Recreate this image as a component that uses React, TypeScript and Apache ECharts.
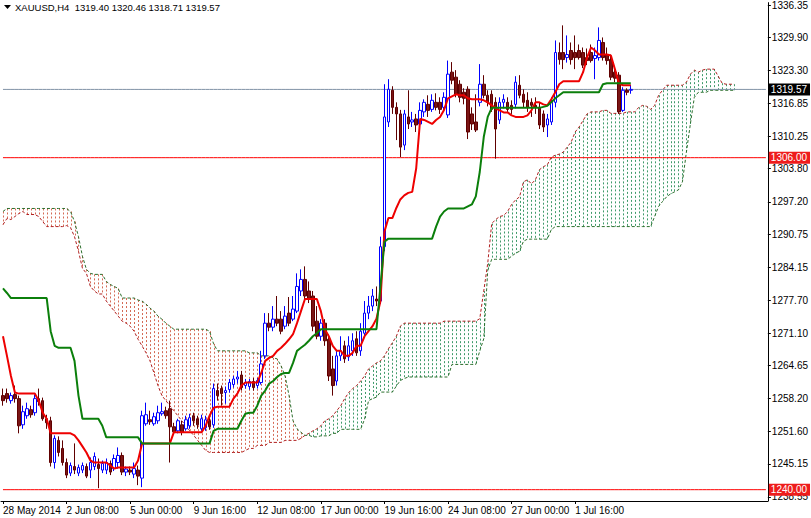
import React, { useEffect, useRef } from 'react';
import * as echarts from 'echarts';

const FONT = '"Liberation Sans", Arial, sans-serif';

// [open, close, low, high] for each H4 bar, starting 28 May 2014 16:00
const candles: number[][] = [
  [1258.7,1257.7,1256.7,1260.1],[1259.1,1258.1,1257.3,1260.1],[1257.7,1258.7,1257.1,1259.3],[1258.9,1258.1,1257.3,1260.7],[1258.1,1252.7,1251.2,1258.7],
  [1252.9,1255.5,1252.1,1256.7],[1254.7,1256.1,1254.1,1257.3],[1255.9,1254.9,1254.3,1256.7],[1255.3,1258.1,1254.7,1258.9],[1258.1,1257.5,1256.7,1260.1],
  [1257.7,1254.1,1253.7,1258.3],[1254.1,1253.3,1252.1,1254.9],[1253.7,1245.4,1244.6,1254.5],[1245.4,1250.2,1244.2,1250.8],[1249.8,1247.4,1246.6,1250.6],
  [1248.2,1245.4,1244.8,1249.8],[1245.4,1242.9,1242.3,1246.2],[1243.3,1244.8,1242.7,1245.4],[1244.6,1243.9,1243.1,1249.2],[1243.3,1244.4,1242.7,1245.0],
  [1243.9,1244.8,1243.3,1245.4],[1244.6,1242.7,1242.3,1245.2],[1243.9,1245.4,1242.3,1246.4],[1244.6,1246.6,1243.9,1247.4],[1245.0,1244.2,1240.3,1246.2],
  [1243.9,1245.2,1243.3,1245.8],[1243.9,1245.4,1243.1,1246.2],[1245.2,1243.5,1242.9,1245.8],[1244.2,1246.2,1243.7,1247.0],[1245.4,1246.8,1244.2,1248.4],
  [1246.8,1243.5,1242.9,1247.4],[1243.5,1244.1,1242.7,1244.6],[1243.9,1243.5,1242.9,1244.6],[1243.1,1244.2,1242.3,1245.4],[1243.9,1242.7,1240.9,1244.8],
  [1242.3,1254.7,1240.5,1255.7],[1253.1,1254.9,1252.7,1257.3],[1253.9,1253.5,1252.9,1255.7],[1253.1,1254.5,1252.7,1255.3],[1253.7,1255.3,1253.1,1256.7],
  [1255.1,1255.5,1254.7,1257.3],[1255.7,1254.7,1254.1,1256.5],[1256.1,1252.5,1245.4,1257.7],[1252.5,1251.5,1251.0,1253.3],[1251.7,1253.7,1251.2,1254.1],
  [1252.9,1251.4,1250.8,1253.7],[1252.1,1253.9,1251.7,1254.7],[1252.7,1254.3,1252.1,1255.1],[1254.7,1253.7,1252.7,1255.3],[1254.1,1252.9,1252.1,1254.7],
  [1252.1,1254.1,1251.7,1254.9],[1252.3,1253.9,1251.7,1254.7],[1253.7,1252.5,1251.9,1254.5],[1252.9,1260.1,1252.3,1261.1],[1259.7,1258.7,1257.7,1261.1],
  [1260.1,1259.1,1256.7,1260.7],[1259.3,1259.7,1257.1,1260.5],[1259.9,1261.3,1259.3,1262.0],[1260.9,1262.0,1260.3,1262.6],[1262.0,1262.4,1261.1,1263.6],
  [1262.8,1260.3,1259.7,1263.6],[1260.7,1261.3,1260.1,1262.0],[1260.5,1261.5,1259.9,1262.0],[1261.5,1260.3,1259.7,1262.2],[1260.7,1261.7,1260.1,1262.2],
  [1261.3,1265.0,1260.9,1267.6],[1266.6,1273.1,1266.0,1275.1],[1273.1,1272.3,1271.5,1275.1],[1272.3,1273.9,1271.5,1276.5],[1273.9,1273.1,1272.5,1278.5],
  [1273.9,1271.5,1270.9,1275.5],[1272.5,1274.5,1271.9,1276.5],[1275.1,1273.1,1272.5,1278.3],[1273.9,1275.9,1273.5,1278.5],[1275.5,1280.4,1275.1,1283.0],
  [1279.5,1281.8,1278.5,1283.8],[1281.8,1278.5,1277.9,1284.4],[1279.5,1277.9,1277.1,1281.4],[1278.5,1272.5,1271.5,1279.5],[1273.5,1270.5,1269.9,1276.5],
  [1270.5,1273.1,1269.6,1273.9],[1273.1,1269.6,1268.6,1273.9],[1269.9,1262.6,1261.6,1270.9],[1264.0,1260.7,1258.7,1266.6],[1261.6,1266.6,1260.7,1267.6],
  [1266.6,1267.6,1265.6,1270.5],[1268.6,1266.0,1265.2,1269.6],[1266.4,1268.6,1265.6,1270.5],[1267.6,1269.6,1266.6,1271.1],[1270.0,1267.2,1266.6,1271.5],
  [1267.6,1271.5,1266.6,1273.1],[1271.1,1275.1,1270.3,1277.5],[1275.1,1276.5,1273.9,1278.5],[1276.5,1278.5,1275.5,1279.9],[1277.9,1277.5,1276.5,1280.4],
  [1277.5,1288.3,1276.9,1290.3],[1288.3,1314.1,1287.4,1320.6],[1313.1,1319.6,1312.1,1321.6],[1319.4,1316.0,1314.7,1320.2],[1316.0,1314.7,1309.5,1317.0],
  [1314.7,1308.1,1306.1,1315.5],[1308.5,1314.7,1307.5,1315.5],[1314.1,1312.7,1311.7,1319.4],[1313.1,1313.5,1312.1,1315.1],[1313.7,1312.5,1311.1,1314.7],
  [1312.7,1315.4,1312.1,1317.0],[1315.1,1317.0,1314.1,1317.6],[1316.6,1315.4,1314.1,1318.4],[1315.6,1317.4,1315.1,1318.6],[1317.0,1316.0,1315.4,1318.8],
  [1317.0,1315.6,1314.7,1318.0],[1316.0,1318.0,1315.4,1319.0],[1314.5,1322.6,1313.9,1325.3],[1323.0,1321.4,1320.6,1325.0],[1322.0,1318.6,1318.0,1323.4],
  [1320.6,1318.0,1317.0,1321.4],[1319.0,1317.8,1316.6,1319.8],[1319.6,1311.1,1309.7,1320.2],[1314.7,1312.7,1311.5,1316.0],[1313.1,1311.5,1311.1,1318.6],
  [1317.0,1320.6,1316.2,1324.6],[1320.6,1318.4,1317.8,1322.4],[1318.4,1317.0,1316.2,1319.4],[1318.6,1315.6,1315.1,1319.4],[1317.0,1311.7,1305.8,1318.0],
  [1313.5,1317.0,1312.7,1318.0],[1317.0,1317.6,1315.8,1318.6],[1317.0,1315.6,1315.1,1318.0],[1316.4,1315.6,1314.7,1317.4],[1316.6,1321.0,1315.8,1322.2],
  [1320.4,1318.4,1317.8,1322.4],[1318.6,1317.0,1316.0,1319.6],[1317.4,1316.0,1315.1,1319.0],[1317.0,1316.4,1314.1,1317.8],[1316.4,1316.0,1314.7,1318.0],
  [1316.0,1312.5,1311.7,1317.0],[1314.7,1312.1,1311.1,1315.4],[1312.5,1313.7,1310.1,1314.7],[1313.1,1317.0,1312.5,1318.0],[1317.0,1326.9,1316.0,1329.3],
  [1326.9,1325.5,1324.5,1328.9],[1326.9,1325.5,1323.6,1332.3],[1325.9,1326.5,1324.9,1330.3],[1327.3,1325.5,1324.5,1328.9],[1326.9,1325.9,1323.6,1330.3],
  [1327.3,1325.9,1325.5,1328.5],[1326.9,1324.4,1323.8,1327.9],[1325.9,1325.3,1324.4,1327.7],[1326.9,1325.3,1324.9,1328.5],[1325.7,1326.3,1321.6,1327.9],
  [1325.9,1329.3,1325.3,1331.9],[1328.9,1325.9,1325.3,1329.9],[1326.5,1325.3,1324.5,1327.9],[1325.5,1322.0,1321.4,1326.5],[1323.0,1321.8,1321.0,1324.0],
  [1322.4,1315.1,1314.7,1323.0],[1315.4,1319.4,1315.1,1320.0],[1319.4,1319.0,1318.4,1319.8],[1319.40,1319.57,1318.71,1320.46],
];

// Tenkan-sen (red)
const tenkan: number[] = [
  1270.5,1266.6,1262.6,1259.3,1259.1,1259.1,1259.1,1259.1,1259.1,1257.7,
  1255.3,1254.1,1251.2,1251.2,1251.2,1251.2,1251.2,1251.2,1250.8,1249.8,
  1248.6,1247.4,1245.8,1245.4,1245.4,1245.4,1245.4,1244.8,1244.2,1244.4,
  1244.4,1244.4,1244.4,1244.4,1245.8,1249.2,1249.2,1249.2,1249.2,1249.2,
  1249.2,1249.2,1249.2,1251.4,1251.4,1251.4,1251.4,1251.4,1251.4,1251.4,
  1251.4,1252.7,1254.7,1256.3,1256.5,1256.5,1256.5,1256.5,1258.1,1259.1,
  1260.7,1261.3,1261.3,1261.3,1261.3,1263.2,1265.6,1266.2,1266.6,1267.6,
  1268.2,1269.0,1269.9,1270.9,1273.1,1275.5,1277.9,1277.9,1277.9,1277.9,
  1275.5,1271.9,1270.5,1268.6,1267.6,1267.6,1266.6,1266.6,1267.2,1268.6,
  1268.6,1270.5,1271.5,1272.5,1274.0,1277.5,1291.3,1294.0,1294.0,1296.0,
  1297.7,1298.5,1299.0,1299.2,1303.9,1313.7,1313.5,1313.1,1312.7,1313.5,
  1314.1,1315.5,1317.8,1318.2,1318.6,1318.4,1318.4,1317.8,1317.6,1317.6,
  1317.6,1317.4,1317.0,1316.4,1315.8,1315.4,1315.0,1315.0,1314.4,1314.1,
  1314.1,1314.1,1314.4,1315.4,1317.0,1317.0,1316.6,1316.4,1317.6,1319.0,
  1320.6,1321.2,1321.2,1321.2,1321.2,1321.2,1323.0,1325.9,1327.9,1327.3,
  1326.5,1326.5,1326.5,1326.3,1323.6,1320.8,1320.4,1320.4,1320.4,
];

// Kijun-sen (green)
const kijun: number[] = [
  1280.0,1279.1,1278.1,1278.1,1278.1,1278.1,1278.1,1278.1,1278.1,1278.1,
  1278.1,1278.1,1271.5,1268.6,1268.2,1268.2,1268.2,1268.2,1265.6,1258.7,
  1254.1,1254.1,1254.1,1254.1,1254.1,1252.7,1250.4,1250.4,1250.4,1250.4,
  1250.4,1250.4,1250.4,1250.4,1250.4,1249.2,1249.2,1249.2,1249.2,1249.2,
  1249.2,1249.2,1249.2,1249.2,1249.2,1249.2,1249.2,1249.2,1249.2,1249.2,
  1249.2,1249.2,1249.2,1251.7,1252.1,1252.1,1252.1,1252.1,1252.1,1252.1,
  1253.7,1255.1,1255.3,1255.3,1256.7,1258.7,1259.7,1261.1,1261.6,1262.4,
  1263.0,1263.2,1263.2,1265.2,1267.6,1268.2,1268.8,1269.6,1270.5,1271.1,
  1271.9,1271.9,1271.9,1271.9,1271.9,1271.9,1271.9,1271.9,1271.9,1271.9,
  1271.9,1271.9,1271.9,1271.9,1271.9,1280.4,1289.3,1289.9,1289.9,1289.9,
  1289.9,1289.9,1289.9,1289.9,1289.9,1289.9,1289.9,1289.9,1289.9,1292.3,
  1294.3,1295.3,1295.9,1295.9,1295.9,1295.9,1295.9,1296.3,1296.7,1298.3,
  1303.2,1310.1,1314.1,1315.9,1315.9,1315.9,1315.9,1315.9,1315.9,1315.9,
  1315.9,1315.9,1315.9,1315.9,1315.9,1315.9,1316.1,1316.3,1317.0,1317.8,
  1318.4,1319.0,1319.0,1319.0,1319.0,1319.0,1319.0,1319.0,1319.0,1319.0,
  1319.0,1320.6,1320.8,1320.8,1320.8,1320.8,1320.8,1320.8,1320.8,
];

// Senkou Span A (shifted 26 bars forward)
const spanA: number[] = [
  1292.7,1293.9,1293.7,1294.3,1294.9,1295.3,1294.7,1294.7,1294.7,1294.3,
  1293.3,1292.3,1292.3,1292.3,1292.3,1292.3,1292.5,1292.1,1290.3,1287.4,
  1284.0,1283.0,1280.4,1279.5,1278.9,1278.9,1277.5,1276.5,1275.5,1274.5,
  1273.5,1273.1,1272.5,1271.5,1269.9,1268.6,1267.2,1265.6,1263.2,1260.7,
  1258.7,1257.7,1256.7,1255.7,1254.7,1253.7,1252.7,1251.7,1250.8,1249.8,
  1248.8,1247.8,1247.4,1247.4,1247.4,1247.4,1247.4,1247.4,1247.4,1247.4,
  1247.4,1247.8,1248.2,1248.2,1248.8,1248.8,1248.8,1249.4,1249.4,1249.4,
  1249.4,1249.8,1249.8,1249.8,1249.8,1250.2,1250.8,1251.2,1251.7,1252.1,
  1252.7,1253.7,1254.1,1254.7,1255.7,1256.7,1258.1,1259.3,1260.1,1260.7,
  1261.6,1262.6,1264.0,1264.6,1265.2,1265.6,1266.6,1268.0,1269.2,1270.5,
  1272.5,1273.1,1273.1,1273.1,1273.1,1273.1,1273.1,1273.1,1273.1,1273.1,
  1273.1,1273.5,1273.5,1273.5,1273.5,1273.5,1273.5,1273.5,1273.5,1273.5,
  1274.0,1279.5,1285.0,1292.9,1293.7,1294.3,1294.5,1295.3,1296.7,1297.6,
  1298.2,1301.2,1301.6,1300.8,1301.6,1303.6,1304.2,1304.6,1306.1,1306.5,
  1306.7,1307.1,1308.1,1309.1,1311.1,1312.1,1313.4,1314.7,1315.1,1315.1,
  1315.1,1315.4,1315.4,1314.8,1314.8,1314.8,1314.8,1315.1,1315.1,1315.1,
  1316.0,1316.4,1316.2,1315.6,1316.4,1318.4,1319.4,1320.4,1320.4,1320.4,
  1320.4,1320.4,1321.0,1322.6,1323.4,1323.0,1323.4,1323.6,1323.6,1323.6,
  1322.2,1320.8,1320.6,1320.6,1320.6,
];

// Senkou Span B (shifted 26 bars forward)
const spanB: number[] = [
  1295.3,1295.9,1295.9,1295.9,1295.9,1295.9,1295.9,1295.9,1295.9,1295.9,
  1295.9,1295.9,1295.9,1295.9,1295.9,1295.9,1295.9,1295.3,1293.3,1290.3,
  1286.4,1283.8,1283.0,1282.8,1282.8,1282.8,1281.4,1280.8,1280.4,1280.0,
  1278.1,1278.1,1278.1,1278.1,1277.7,1277.5,1276.9,1276.1,1275.5,1274.5,
  1273.9,1273.1,1272.5,1271.9,1271.9,1271.9,1271.9,1271.9,1271.9,1271.9,
  1271.9,1271.9,1271.5,1269.0,1267.6,1267.6,1267.6,1267.6,1267.6,1267.6,
  1267.6,1267.6,1267.2,1267.2,1267.2,1266.6,1266.6,1266.6,1266.2,1266.0,
  1264.6,1262.6,1258.7,1253.7,1252.1,1251.4,1250.8,1250.8,1250.5,1250.5,
  1250.7,1250.7,1250.7,1251.2,1251.2,1252.0,1252.0,1252.0,1252.0,1252.0,
  1252.0,1254.0,1257.7,1258.1,1258.4,1259.4,1259.4,1259.4,1259.4,1260.6,
  1261.7,1262.1,1262.4,1262.4,1262.4,1262.4,1262.4,1262.4,1262.4,1262.4,
  1262.4,1262.4,1262.4,1264.9,1264.9,1264.9,1264.9,1264.9,1264.9,1264.9,
  1267.6,1270.0,1283.6,1285.8,1285.8,1285.8,1285.8,1285.8,1286.4,1287.0,
  1287.4,1289.4,1289.8,1289.8,1289.8,1289.8,1289.8,1289.8,1291.7,1292.3,
  1292.3,1292.3,1292.3,1292.3,1292.3,1292.3,1292.3,1292.3,1292.3,1292.3,
  1292.3,1292.3,1292.3,1292.3,1292.3,1292.3,1292.3,1292.3,1292.3,1292.3,
  1292.3,1292.3,1292.3,1292.3,1294.3,1296.3,1297.3,1298.2,1298.8,1299.2,
  1299.6,1301.2,1307.1,1312.7,1318.0,1319.0,1319.0,1319.0,1319.4,1319.4,
  1319.4,1319.4,1319.4,1319.4,1319.4,
];

const priceTicks: number[] = [
  1238.55,1245.15,1251.60,1258.20,1264.65,1271.10,1277.70,1284.15,
  1290.75,1297.20,1303.80,1310.25,1316.85,1323.30,1329.90,1336.35,
];
const timeTickBars: number[] = [0,16,32,48,64,80,96,112,128,144];
const timeTickLabels: string[] = [
  '28 May 2014','2 Jun 08:00','5 Jun 00:00','9 Jun 16:00','12 Jun 08:00',
  '17 Jun 00:00','19 Jun 16:00','24 Jun 08:00','27 Jun 00:00','1 Jul 16:00',
];
const lastQuote = { open: 1319.40, high: 1320.46, low: 1318.71, close: 1319.57 };
const levelLines: number[] = [1306.00, 1240.00];
const symbolName = 'XAUUSD,H4';
const BAR_SLOTS = 193;
const Y_MIN = 1237.75;
const Y_MAX = 1336.82;

const MONTHS = ['Jan','Feb','Mar','Apr','May','Jun','Jul','Aug','Sep','Oct','Nov','Dec'];
function buildCategories(): string[] {
  const out: string[] = [];
  let t = Date.UTC(2014, 4, 28, 16);
  while (out.length < BAR_SLOTS) {
    const d = new Date(t);
    const wd = d.getUTCDay();
    if (wd !== 0 && wd !== 6) {
      out.push(`${d.getUTCDate()} ${MONTHS[d.getUTCMonth()]} ${String(d.getUTCHours()).padStart(2, '0')}:00`);
    }
    t += 4 * 3600 * 1000;
  }
  return out;
}

// horizontal price level drawn as a flat line series across every bar slot, with a boxed end label
function levelSeries(value: number, lineColor: string, boxColor: string, z: number) {
  return {
    type: 'line',
    name: `level ${value.toFixed(2)}`,
    data: new Array(BAR_SLOTS).fill(value),
    showSymbol: false,
    silent: true,
    clip: false,
    z,
    lineStyle: { color: lineColor, width: 1, type: 'solid' },
    endLabel: {
      show: true,
      formatter: () => value.toFixed(2),
      distance: 3,
      backgroundColor: boxColor,
      color: '#ffffff',
      fontSize: 10,
      fontFamily: FONT,
      padding: [1, 3, 1, 2],
    },
  };
}

function buildOption(): any {
  const categories = buildCategories();
  const cloud = spanA.map((a, i) => [i, a, spanB[i]]);
  const isTick = (i: number) => timeTickBars.indexOf(i) >= 0;
  return {
    animation: false,
    backgroundColor: '#ffffff',
    grid: { left: -3, right: 40, top: 0, bottom: 17, containLabel: false },
    xAxis: {
      type: 'category',
      data: categories,
      boundaryGap: true,
      axisLine: { show: true, lineStyle: { color: '#000', width: 1 } },
      axisTick: { show: true, alignWithLabel: true, interval: (i: number) => isTick(i), length: 3, lineStyle: { color: '#000' } },
      axisLabel: {
        interval: (i: number) => isTick(i),
        formatter: (_v: string, i: number) => {
          const k = timeTickBars.indexOf(i);
          return k >= 0 ? timeTickLabels[k] : '';
        },
        align: 'left',
        margin: 4,
        fontSize: 10,
        fontFamily: FONT,
        color: '#000',
        hideOverlap: false,
      },
      splitLine: { show: false },
    },
    yAxis: {
      type: 'value',
      position: 'right',
      min: Y_MIN,
      max: Y_MAX,
      axisLine: { show: true, onZero: false, lineStyle: { color: '#000', width: 1 } },
      axisTick: { show: true, length: 3, customValues: priceTicks, lineStyle: { color: '#000' } },
      axisLabel: {
        customValues: priceTicks,
        formatter: (v: number) => v.toFixed(2),
        margin: 4,
        fontSize: 10,
        fontFamily: FONT,
        color: '#000',
      },
      splitLine: { show: false },
    },
    graphic: [
      { type: 'polygon', shape: { points: [[4, 5], [11, 5], [7.5, 9]] }, style: { fill: '#000' } },
      {
        type: 'text', left: 15, top: 2,
        style: {
          text: `${symbolName}  ${lastQuote.open.toFixed(2)} ${lastQuote.high.toFixed(2)} ${lastQuote.low.toFixed(2)} ${lastQuote.close.toFixed(2)}`,
          fontSize: 9.5, fontFamily: FONT, fill: '#000',
        },
      },
    ],
    series: [
      {
        type: 'custom',
        name: 'cloud',
        data: cloud,
        encode: { x: 0, y: [1, 2] },
        clip: true,
        silent: true,
        z: 1,
        renderItem: (_p: any, api: any) => {
          const i = api.value(0);
          const a = api.value(1);
          const b = api.value(2);
          const pa = api.coord([i, a]);
          const pb = api.coord([i, b]);
          const x = Math.round(pa[0]) + 0.5;
          return {
            type: 'line',
            shape: { x1: x, y1: Math.min(pa[1], pb[1]), x2: x, y2: Math.max(pa[1], pb[1]) },
            style: { stroke: a >= b ? '#3f9a6a' : '#d46a55', lineWidth: 1, lineDash: [2, 2] },
          };
        },
      },
      {
        type: 'line', name: 'Senkou A', data: spanA, showSymbol: false, silent: true, z: 2,
        lineStyle: { color: '#b02020', width: 1, type: [3, 2] },
      },
      {
        type: 'line', name: 'Senkou B', data: spanB, showSymbol: false, silent: true, z: 2,
        lineStyle: { color: '#2c6e2c', width: 1, type: [3, 2] },
      },
      levelSeries(lastQuote.close, '#8193a6', '#000000', 3),
      levelSeries(levelLines[0], '#ff0000', '#ee1c1c', 3),
      levelSeries(levelLines[1], '#ff0000', '#ee1c1c', 3),
      {
        type: 'candlestick',
        name: symbolName,
        data: candles,
        barWidth: 3,
        z: 4,
        itemStyle: {
          color: '#ffffff',
          color0: '#7a1515',
          borderColor: '#0000ff',
          borderColor0: '#600000',
          borderWidth: 1,
        },
      },
      {
        type: 'line', name: 'Tenkan-sen', data: tenkan, showSymbol: false, silent: true, z: 5,
        lineStyle: { color: '#ee0000', width: 2 },
      },
      {
        type: 'line', name: 'Kijun-sen', data: kijun, showSymbol: false, silent: true, z: 5,
        lineStyle: { color: '#0b7f0b', width: 2 },
      },
    ],
  };
}

export default function App() {
  const ref = useRef<HTMLDivElement>(null);
  useEffect(() => {
    if (!ref.current) return;
    const chart = echarts.init(ref.current, null, { renderer: 'svg' });
    chart.setOption(buildOption());
    return () => chart.dispose();
  }, []);
  return (
    <div
      ref={ref}
      style={{ position: 'fixed', left: 0, top: 0, width: 811, height: 518, background: '#fff' }}
    />
  );
}
